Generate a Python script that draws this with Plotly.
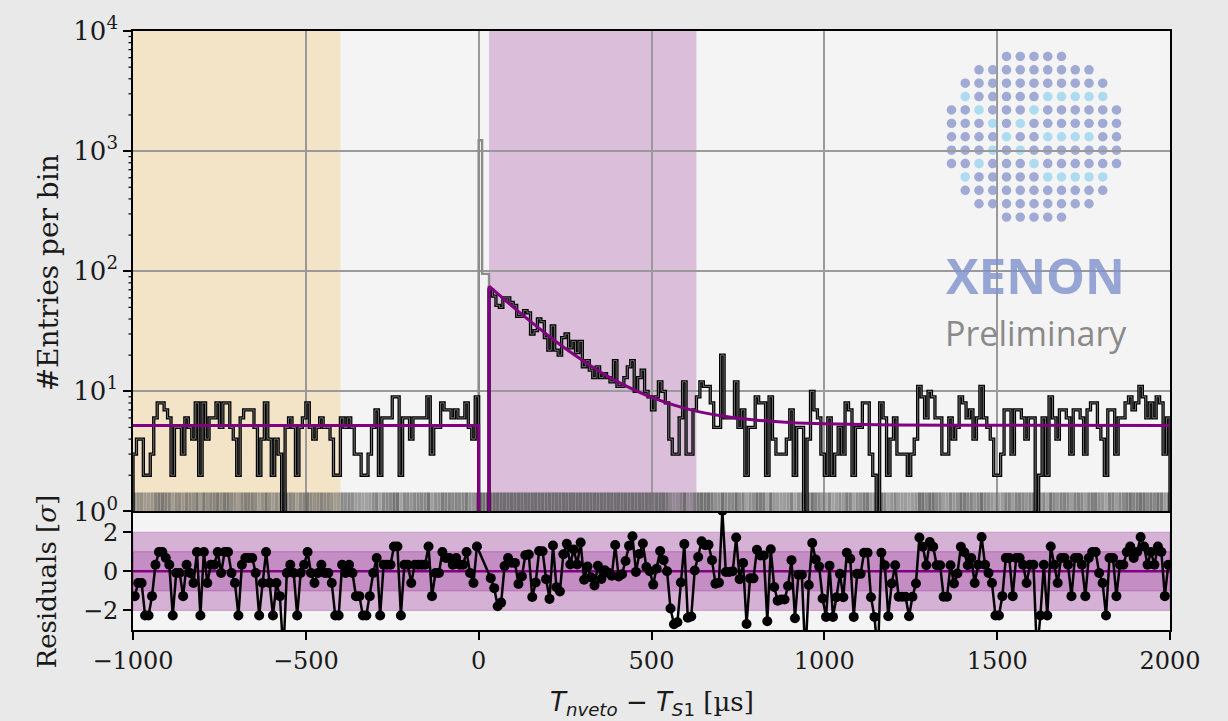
import numpy as np
import plotly.graph_objects as go

# ---------------- data ----------------
BIN_W = 10          # bin width in microseconds
PRE_START = -1000   # left edge of first bin before the S1
POST_START = 30     # left edge of first fitted bin after the S1
X_RANGE = [-1000, 2000]
Y_LOG_RANGE = [0, 4]

counts_pre = [3, 4, 4, 2, 2, 3, 6, 8, 8, 7,
              6, 2, 5, 5, 3, 6, 5, 4, 8, 2,
              8, 4, 6, 6, 8, 5, 8, 8, 5, 4,
              2, 6, 7, 7, 7, 5, 2, 4, 8, 4,
              2, 4, 3, 1, 5, 6, 5, 2, 5, 6,
              8, 5, 4, 5, 6, 5, 5, 4, 2, 2,
              6, 5, 6, 5, 3, 3, 2, 2, 3, 5,
              7, 2, 6, 6, 6, 9, 9, 2, 6, 6,
              4, 6, 6, 6, 6, 9, 3, 5, 5, 8,
              7, 7, 6, 7, 6, 6, 8, 5, 4, 9]

counts_post = [70, 62, 52, 50, 60, 60, 55, 52, 42, 42,
               47, 45, 30, 32, 40, 38, 28, 22, 35, 22,
               20, 28, 30, 23, 26, 21, 26, 16, 18, 15,
               13, 16, 13, 14, 13, 12, 18, 11, 11, 13,
               16, 18, 10, 13, 15, 10, 9, 7, 9, 12,
               10, 8, 4, 3, 3, 6, 12, 3, 3, 7,
               9, 12, 11, 11, 8, 5, 5, 20, 6, 6,
               6, 12, 5, 7, 2, 5, 5, 9, 8, 8,
               2, 9, 4, 3, 3, 3, 4, 7, 2, 5,
               5, 1, 4, 10, 7, 6, 3, 2, 6, 2,
               3, 5, 3, 8, 7, 2, 5, 5, 8, 8,
               3, 2, 1, 8, 6, 2, 4, 6, 3, 3,
               3, 2, 3, 4, 11, 9, 6, 10, 9, 6,
               6, 3, 3, 6, 4, 5, 9, 8, 6, 7,
               4, 6, 11, 6, 5, 4, 2, 2, 3, 7,
               7, 3, 7, 7, 6, 4, 6, 6, 1, 2,
               6, 2, 9, 6, 4, 7, 7, 6, 3, 7,
               7, 6, 3, 7, 8, 8, 5, 4, 2, 7,
               7, 3, 6, 6, 8, 9, 7, 8, 11, 9,
               6, 8, 6, 9, 8, 3, 6]

peak_start = 0
peak_counts = [1230, 95, 95]

resid_pre = [-1.27, -0.60, -0.60, -2.26, -2.26, -1.27, 0.33, 0.99, 0.99, 0.68,
             0.33, -2.26, -0.09, -0.09, -1.27, 0.33, -0.09, -0.60, 0.99, -2.26,
             0.99, -0.60, 0.33, 0.33, 0.99, -0.09, 0.99, 0.99, -0.09, -0.60,
             -2.26, 0.33, 0.68, 0.68, 0.68, -0.09, -2.26, -0.60, 0.99, -0.60,
             -2.26, -0.60, -1.27, -4.20, -0.09, 0.33, -0.09, -2.26, -0.09, 0.33,
             0.99, -0.09, -0.60, -0.09, 0.33, -0.09, -0.09, -0.60, -2.26, -2.26,
             0.33, -0.09, 0.33, -0.09, -1.27, -1.27, -2.26, -2.26, -1.27, -0.09,
             0.68, -2.26, 0.33, 0.33, 0.33, 1.27, 1.27, -2.26, 0.33, 0.33,
             -0.60, 0.33, 0.33, 0.33, 0.33, 1.27, -1.27, -0.09, -0.09, 0.99,
             0.68, 0.68, 0.33, 0.68, 0.33, 0.33, 0.99, -0.09, -0.60, 1.27]

resid_post = [-0.35, -0.86, -1.79, -1.60, 0.27, 0.68, 0.44, 0.43, -0.65, -0.26,
              0.82, 0.86, -1.31, -0.57, 1.04, 1.02, -0.40, -1.41, 1.32, -0.81,
              -1.03, 0.87, 1.41, 0.35, 1.12, 0.35, 1.47, -0.43, 0.24, -0.31,
              -0.72, 0.28, -0.39, 0.05, -0.08, -0.23, 1.34, -0.27, -0.15, 0.53,
              1.30, 1.79, -0.03, 0.89, 1.42, 0.22, 0.00, -0.68, 0.13, 1.04,
              0.57, 0.00, -1.90, -2.71, -2.60, -0.57, 1.39, -2.37, -2.31, 0.04,
              0.73, 1.53, 1.33, 1.36, 0.57, -0.63, -0.58, 3.09, -0.04, -0.04,
              0.00, 1.73, -0.40, 0.42, -2.69, -0.36, -0.36, 1.10, 0.81, 0.81,
              -2.55, 1.13, -0.80, -1.50, -1.44, -1.44, -0.75, 0.57, -2.40, -0.18,
              -0.18, -4.40, -0.70, 1.45, 0.60, 0.24, -1.39, -2.33, 0.29, -2.33,
              -1.33, -0.13, -1.33, 0.95, 0.64, -2.33, -0.13, -0.13, 0.95, 0.95,
              -1.33, -2.33, -4.30, 0.95, 0.31, -2.30, -0.62, 0.31, -1.30, -1.30,
              -1.30, -2.30, -1.30, -0.62, 1.73, 1.25, 0.31, 1.50, 1.25, 0.31,
              0.31, -1.30, -1.30, 0.31, -0.62, -0.11, 1.25, 0.97, 0.31, 0.68,
              -0.60, 0.33, 1.75, 0.33, -0.09, -0.60, -2.26, -2.26, -1.27, 0.68,
              0.68, -1.27, 0.68, 0.68, 0.33, -0.60, 0.33, 0.33, -4.20, -2.26,
              0.33, -2.26, 1.27, 0.33, -0.60, 0.68, 0.68, 0.33, -1.27, 0.68,
              0.68, 0.33, -1.27, 0.68, 0.99, 0.99, -0.09, -0.60, -2.26, 0.68,
              0.68, -1.27, 0.33, 0.33, 0.99, 1.27, 0.68, 0.99, 1.75, 1.27,
              0.33, 0.99, 0.33, 1.27, 0.99, -1.27, 0.33]

fit_bg_x = [-1000, 0]
fit_bg_y = [5.2, 5.2]
fit_decay_x = [30, 60, 100, 150, 200, 250, 300, 350, 400, 500, 600, 700,
               800, 900, 1000, 1200, 1500, 2000]
fit_decay_y = [75.0, 63.1, 50.3, 38.2, 29.3, 22.8, 18.1, 14.6, 12.1, 8.9, 7.18,
               6.26, 5.77, 5.50, 5.36, 5.25, 5.21, 5.2]
fit_cut_x = [0, 30]      # fit window boundaries

side_band = [-1000, -400]
signal_band = [30, 630]

x_ticks = [-1000, -500, 0, 500, 1000, 1500, 2000]
x_ticklabels = ["\u22121000", "\u2212500", "0", "500", "1000", "1500", "2000"]
y_ticks = [1, 10, 100, 1000, 10000]
y_ticklabels = ["10<sup>0</sup>", "10<sup>1</sup>", "10<sup>2</sup>",
                "10<sup>3</sup>", "10<sup>4</sup>"]
y_minor = [m * d for d in (1, 10, 100, 1000) for m in range(2, 10)]
r_ticks = [-2, 0, 2]
r_ticklabels = ["\u22122", "0", "2"]

# ---------------- helpers ----------------
FLOOR = 0.4   # below the log-axis range: used for the step drop-downs
PURPLE = "#800080"
TICK_FONT = dict(family="DejaVu Serif", size=24, color="#1a1a1a")
YTICK_FONT = dict(family="DejaVu Serif", size=26, color="#1a1a1a")
TITLE_FONT = dict(family="DejaVu Serif", size=26, color="#1a1a1a")
TOP_DOMAIN = [0.198, 1]
RES_DOMAIN = [0, 0.196]


def step_xy(start, counts):
    edges = start + BIN_W * np.arange(len(counts) + 1)
    xs = [edges[0]] + list(edges[:-1]) + [edges[-1], edges[-1]]
    ys = [FLOOR] + list(counts) + [counts[-1], FLOOR]
    return xs, ys


def centers(start, counts):
    return start + BIN_W * (np.arange(len(counts)) + 0.5)


fig = go.Figure()

# rug of events along the bottom of the top panel
rug_x = np.concatenate([centers(PRE_START, counts_pre),
                        centers(peak_start, peak_counts),
                        centers(POST_START, counts_post)])
rug_n = list(counts_pre) + list(peak_counts) + list(counts_post)
rug_col = ["rgba(100,100,100,%.2f)" % min(0.48 + 0.045 * n, 0.9) for n in rug_n]
fig.add_trace(go.Scatter(x=rug_x, y=[1.16] * len(rug_x), mode="markers",
                         marker=dict(symbol="line-ns", size=16,
                                     line=dict(width=3.3, color=rug_col)),
                         xaxis="x", yaxis="y", hoverinfo="skip"))

# gray excluded peak
px_, py_ = step_xy(peak_start, peak_counts)
fig.add_trace(go.Scatter(x=px_, y=py_, mode="lines", line_shape="hv",
                         line=dict(color="#8c8c8c", width=2.4),
                         xaxis="x", yaxis="y"))

# black histograms (outlined look)
for start, cts in ((PRE_START, counts_pre), (POST_START, counts_post)):
    hx, hy = step_xy(start, cts)
    fig.add_trace(go.Scatter(x=hx, y=hy, mode="lines", line_shape="hv",
                             line=dict(color="black", width=3.3),
                             xaxis="x", yaxis="y"))
    fig.add_trace(go.Scatter(x=hx, y=hy, mode="lines", line_shape="hv",
                             line=dict(color="rgba(200,200,200,0.8)", width=0.7),
                             xaxis="x", yaxis="y"))

# fit model
fig.add_trace(go.Scatter(x=fit_bg_x + [fit_cut_x[0], None, fit_cut_x[1], fit_cut_x[1]],
                         y=fit_bg_y + [FLOOR, None, FLOOR, fit_decay_y[0]],
                         mode="lines", line=dict(color=PURPLE, width=3),
                         xaxis="x", yaxis="y"))
fig.add_trace(go.Scatter(x=fit_decay_x, y=fit_decay_y, mode="lines",
                         line=dict(color=PURPLE, width=3, shape="spline", smoothing=0.8),
                         xaxis="x", yaxis="y"))

# residuals
res_x = np.concatenate([centers(PRE_START, counts_pre), centers(POST_START, counts_post)])
res_y = list(resid_pre) + list(resid_post)
fig.add_trace(go.Scatter(x=X_RANGE, y=[0, 0], mode="lines",
                         line=dict(color=PURPLE, width=2.5),
                         xaxis="x2", yaxis="y2", hoverinfo="skip"))
fig.add_trace(go.Scatter(x=res_x, y=res_y, mode="lines+markers",
                         line=dict(color="black", width=2.5),
                         marker=dict(color="black", size=10),
                         xaxis="x2", yaxis="y2"))

# ---------------- shapes ----------------
shapes = [
    dict(type="rect", xref="x", yref="y domain", x0=side_band[0], x1=side_band[1],
         y0=0, y1=1, fillcolor="rgba(245,200,120,0.36)", line=dict(width=0), layer="below"),
    dict(type="rect", xref="x", yref="y domain", x0=signal_band[0], x1=signal_band[1],
         y0=0, y1=1, fillcolor="rgba(128,0,128,0.22)", line=dict(width=0), layer="below"),
    dict(type="rect", xref="x2", yref="y2", x0=X_RANGE[0], x1=X_RANGE[1], y0=-2, y1=2,
         fillcolor="rgba(128,0,128,0.27)", line=dict(width=1, color="rgba(128,0,128,0.25)"),
         layer="below"),
    dict(type="rect", xref="x2", yref="y2", x0=X_RANGE[0], x1=X_RANGE[1], y0=-1, y1=1,
         fillcolor="rgba(128,0,128,0.20)", line=dict(width=1, color="rgba(128,0,128,0.3)"),
         layer="below"),
]

PLOT_L, PLOT_W, PLOT_B, PLOT_H = 133, 1037, 630, 606

# minor log ticks on the left axis of the top panel (paper coords -> not clipped)
span = Y_LOG_RANGE[1] - Y_LOG_RANGE[0]
for v in y_minor:
    f = (np.log10(v) - Y_LOG_RANGE[0]) / span
    yp = TOP_DOMAIN[0] + f * (TOP_DOMAIN[1] - TOP_DOMAIN[0])
    shapes.append(dict(type="line", xref="paper", yref="paper",
                       x0=-4.5 / PLOT_W, x1=0, y0=yp, y1=yp,
                       line=dict(color="black", width=1.2), layer="above"))

# XENON logo: dot matrix in a circle
cx_px, cy_px, sx, sy, dot_d = 1034, 131, 13.75, 13.55, 9.6
cyan = set()
for t in range(7):
    cyan.add((3 + t, 1 + t))
    cyan.add((9 - t, 1 + t))
for j in range(7, 12):
    cyan.add((3, j))
    cyan.add((9, j))
for j in range(7, 11):
    cyan.add((6, j))
for i in range(13):
    for j in range(13):
        if (i - 6) ** 2 + (j - 6) ** 2 > 6.5 ** 2:
            continue
        pxc = cx_px + (j - 6) * sx
        pyc = cy_px + (i - 6) * sy
        col = "rgba(160,215,238,0.85)" if (i, j) in cyan else "rgba(128,142,200,0.72)"
        shapes.append(dict(type="circle", xref="paper", yref="paper",
                           x0=(pxc - dot_d / 2 - PLOT_L) / PLOT_W,
                           x1=(pxc + dot_d / 2 - PLOT_L) / PLOT_W,
                           y0=(PLOT_B - (pyc + dot_d / 2)) / PLOT_H,
                           y1=(PLOT_B - (pyc - dot_d / 2)) / PLOT_H,
                           fillcolor=col, line=dict(width=0), layer="below"))

annotations = [
    dict(text="<b>XENON</b>", xref="paper", yref="paper", x=0.870, y=0.592,
         xanchor="center", yanchor="middle", showarrow=False,
         font=dict(family="Open Sans", size=49, color="rgba(128,145,205,0.8)")),
    dict(text="Preliminary", xref="paper", yref="paper", x=0.871, y=0.495,
         xanchor="center", yanchor="middle", showarrow=False,
         font=dict(family="Open Sans", size=34, color="#8a8a8a")),
    dict(text="#Entries per bin", xref="paper", yref="paper", x=-0.082, y=0.597,
         xanchor="center", yanchor="middle", textangle=-90, showarrow=False,
         font=dict(family="DejaVu Serif", size=28, color="#1a1a1a")),
    dict(text="Residuals [<i>σ</i>]", xref="paper", yref="paper", x=-0.082, y=0.081,
         xanchor="center", yanchor="middle", textangle=-90, showarrow=False,
         font=TITLE_FONT),
    dict(text='<span style="font-family:DejaVu Sans"><i>T</i><sub><i>nveto</i></sub> \u2212 '
              '<i>T</i><sub><i>S</i>1</sub></span> [µs]',
         xref="paper", yref="paper", x=0.5005, y=-0.122, xanchor="center", yanchor="middle",
         showarrow=False, font=TITLE_FONT),
]

axis_common = dict(showline=True, linecolor="black", linewidth=1.6, mirror=True,
                   zeroline=False, tickcolor="black", tickwidth=1.5)

fig.update_layout(
    width=1228, height=721,
    margin=dict(l=133, r=58, t=24, b=91),
    paper_bgcolor="#E9E9E9", plot_bgcolor="#F4F4F4",
    showlegend=False,
    font=dict(family="DejaVu Serif", size=22, color="#1a1a1a"),
    xaxis=dict(domain=[0, 1], anchor="y", range=X_RANGE, tickvals=x_ticks,
               showticklabels=False, ticks="", showgrid=True, gridcolor="#9a9a9a",
               gridwidth=1.6, tickfont=TICK_FONT, **axis_common),
    yaxis=dict(domain=TOP_DOMAIN, anchor="x", type="log", range=Y_LOG_RANGE,
               tickmode="array", tickvals=y_ticks, ticktext=y_ticklabels,
               ticks="outside", ticklen=8, tickfont=YTICK_FONT,
               showgrid=True, gridcolor="#9a9a9a", gridwidth=1.6,
               **axis_common),
    xaxis2=dict(domain=[0, 1], anchor="y2", range=X_RANGE, tickvals=x_ticks,
                ticktext=x_ticklabels, ticks="outside", ticklen=8, showgrid=False,
                tickfont=TICK_FONT, **axis_common),
    yaxis2=dict(domain=RES_DOMAIN, anchor="x2", range=[-3, 3], tickvals=r_ticks,
                ticktext=r_ticklabels, ticks="outside", ticklen=8, showgrid=False,
                tickfont=TICK_FONT, **axis_common),
    shapes=shapes,
    annotations=annotations,
)

fig.write_html("out.html",
               config={"displayModeBar": False},
               post_script="document.body.style.margin='0';"
                           "document.body.style.background='#E9E9E9';")
